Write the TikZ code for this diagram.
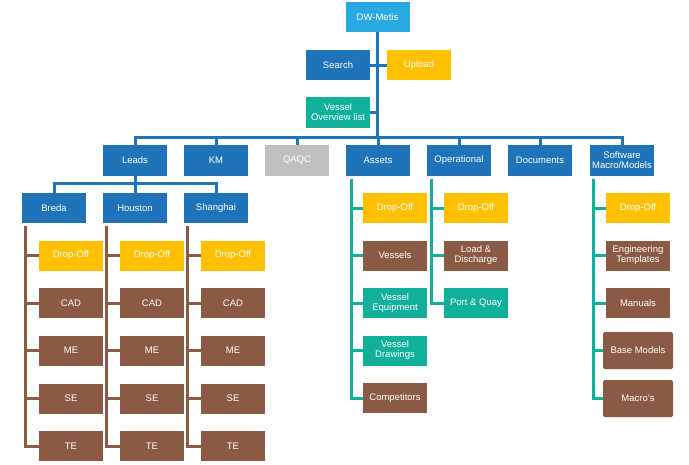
\documentclass[tikz,border=0pt]{standalone}
\usepackage{fontspec}
\setmainfont{Liberation Sans}
\definecolor{cblue}{HTML}{1F74B9}
\definecolor{clight}{HTML}{29A9E1}
\definecolor{cyel}{HTML}{FFC000}
\definecolor{cteal}{HTML}{11B09B}
\definecolor{cgrey}{HTML}{BFBFBF}
\definecolor{cbrown}{HTML}{8A5A44}
\begin{document}
\begin{tikzpicture}[x=1pt,y=-1pt,
  box/.style={minimum width=64pt,minimum height=30pt,inner sep=1pt,text=white,align=center,
    font=\fontsize{9.5}{10}\selectfont},
  bl/.style={box,fill=cblue},
  lb/.style={box,fill=clight},
  ye/.style={box,fill=cyel},
  te/.style={box,fill=cteal},
  gr/.style={box,fill=cgrey},
  br/.style={box,fill=cbrown},
  bigbr/.style={br,minimum width=70pt,minimum height=37pt,rounded corners=1.5pt},
  ln/.style={line width=3pt},
  lblue/.style={ln,draw=cblue},
  lteal/.style={ln,draw=cteal},
  lbrown/.style={ln,draw=cbrown}]
\useasboundingbox (0,0) rectangle (689,464);
% top
\node[lb] (DW) at (377.5,17) {DW-Metis};
\node[bl] (Search) at (338,65) {Search};
\node[ye] (Upload) at (419,65) {Upload};
\node[te,minimum height=31pt] (VOL) at (338,112.5) {Vessel\\Overview list};
% level 1
\node[bl,minimum height=31pt] (Leads) at (135,160.5) {Leads};
\node[bl,minimum height=31pt] (KM) at (216,160.5) {KM};
\node[gr,minimum height=31pt] (QAQC) at (297,160.5) {QAQC};
\node[bl,minimum height=31pt] (Assets) at (378,160.5) {Assets};
\node[bl,minimum height=31pt] (Op) at (459,160.5) {Operational};
\node[bl,minimum height=31pt] (Docs) at (540,160.5) {Documents};
\node[bl,minimum height=31pt] (Sw) at (622,160.5) {Software\\Macro/Models};
% cities
\node[bl] (Breda) at (54,208) {Breda};
\node[bl] (Houston) at (135,208) {Houston};
\node[bl] (Shanghai) at (216,208) {Shanghai};
% city children
\foreach \c/\x in {B/71,H/152,S/233}{
  \node[ye] (\c1) at (\x,255.5) {Drop-Off};
  \node[br] (\c2) at (\x,303) {CAD};
  \node[br] (\c3) at (\x,350.5) {ME};
  \node[br] (\c4) at (\x,398.5) {SE};
  \node[br] (\c5) at (\x,446) {TE};
}
% assets children
\node[ye] (A1) at (395,208) {Drop-Off};
\node[br] (A2) at (395,255.5) {Vessels};
\node[te] (A3) at (395,303) {Vessel\\Equipment};
\node[te] (A4) at (395,350.5) {Vessel\\Drawings};
\node[br] (A5) at (395,398) {Competitors};
% operational children
\node[ye] (O1) at (476,208) {Drop-Off};
\node[br] (O2) at (476,255.5) {Load \&\\Discharge};
\node[te] (O3) at (476,303) {Port \& Quay};
% software children
\node[ye] (W1) at (638,208) {Drop-Off};
\node[br] (W2) at (638,255.5) {Engineering\\Templates};
\node[br] (W3) at (638,303) {Manuals};
\node[bigbr] (W4) at (638,350.5) {Base Models};
\node[bigbr] (W5) at (638,398.5) {Macro's};
% connectors top
\coordinate (bar) at (377.5,137);
\draw[lblue] (DW.south) -- (bar);
\draw[lblue] (Search.east) -- (Upload.west);
\draw[lblue] (VOL.east) -- (VOL.east -| DW.south);
\draw[lblue] (Leads.north) -- (Leads.north |- bar) -- (Sw.north |- bar) -- (Sw.north);
\foreach \n in {KM,QAQC,Assets,Op,Docs}{\draw[lblue] (\n.north) -- (\n.north |- bar);}
% leads to cities
\coordinate (cbar) at (135,183);
\draw[lblue] (Leads.south) -- (cbar);
\draw[lblue] (Breda.north) -- (Breda.north |- cbar) -- (Shanghai.north |- cbar) -- (Shanghai.north);
\draw[lblue] (Houston.north) -- (Houston.north |- cbar);
% city columns
\foreach \p/\c in {Breda/B,Houston/H,Shanghai/S}{
  \coordinate (\c top) at ([xshift=4pt,yshift=-3pt]\p.south west);
  \draw[lbrown] (\c top) |- (\c5.west);
  \foreach \i in {1,2,3,4}{\draw[lbrown] (\c top |- \c\i.west) -- (\c\i.west);}
}
% assets column
\coordinate (Atop) at ([xshift=6pt,yshift=-3pt]Assets.south west);
\draw[lteal] (Atop) |- (A5.west);
\foreach \i in {1,2,3,4}{\draw[lteal] (Atop |- A\i.west) -- (A\i.west);}
% operational column
\coordinate (Otop) at ([xshift=5pt,yshift=-3pt]Op.south west);
\draw[lteal] (Otop) |- (O3.west);
\foreach \i in {1,2}{\draw[lteal] (Otop |- O\i.west) -- (O\i.west);}
% software column
\coordinate (Wtop) at ([xshift=4pt,yshift=-3pt]Sw.south west);
\draw[lteal] (Wtop) |- (W5.west);
\foreach \i in {1,2,3,4}{\draw[lteal] (Wtop |- W\i.west) -- (W\i.west);}
\end{tikzpicture}
\end{document}
